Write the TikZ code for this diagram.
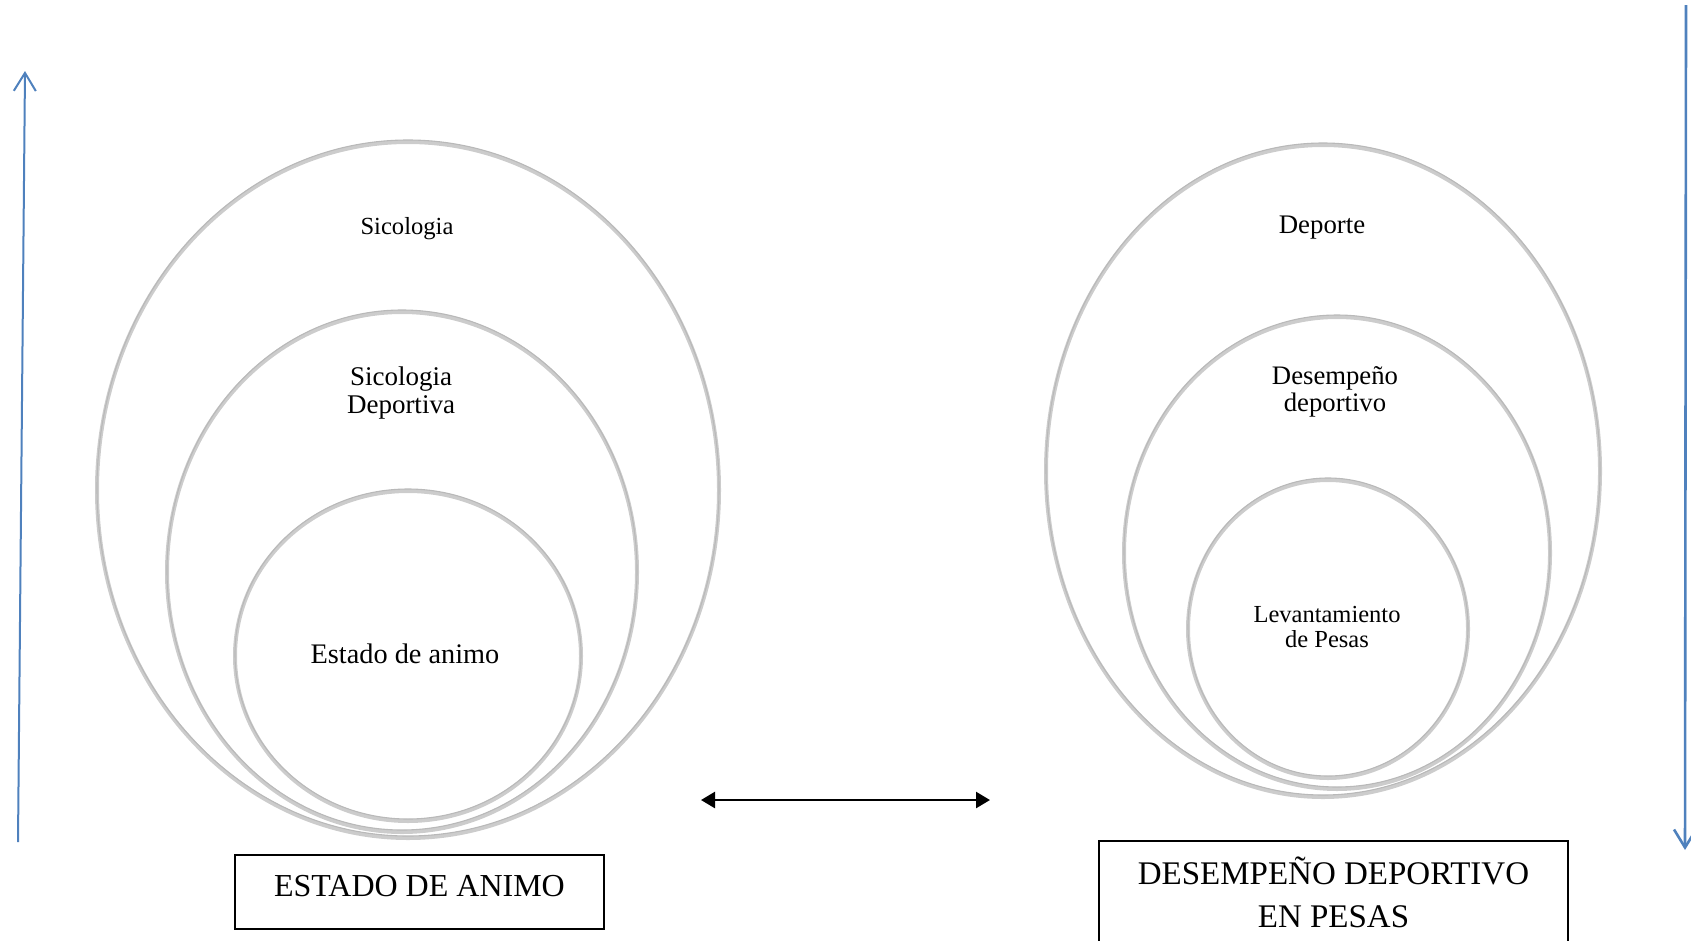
\documentclass[tikz,border=0pt]{standalone}
\usepackage{fontspec}
\setmainfont{Liberation Serif}
\usetikzlibrary{shapes.geometric,arrows.meta}
\definecolor{officeblue}{HTML}{4F81BD}
\begin{document}
\begin{tikzpicture}[x=1pt,y=-1pt,
  ring/.style={ellipse, inner sep=0pt, draw=gray!55, line width=1.1pt,
    preaction={draw=black!20, line width=4pt, transform canvas={yshift=-2pt}}},
  lbl/.style={align=center, inner sep=0pt},
  titlebox/.style={draw=black, line width=1.6pt, align=center, inner sep=0pt},
  bluearrow/.style={draw=officeblue, -{Straight Barb[length=18pt,width=22pt]}},
  linkarrow/.style={draw=black, line width=2.5pt, {Triangle[length=14pt,width=16pt]}-{Triangle[length=14pt,width=16pt]}}
]
\useasboundingbox (0,0) rectangle (1691,940);

% left group
\node[ring, minimum width=622pt, minimum height=696pt] (lout) at (408,488) {};
\node[ring, minimum width=470pt, minimum height=520pt] (lmid) at (402,570) {};
\node[ring, minimum width=346pt, minimum height=330pt] (lin) at (408,654) {};
\node[lbl, font=\fontsize{24.6}{28}\selectfont] (tsic) at (407,229) {Sicologia};
\node[lbl, font=\fontsize{27}{28}\selectfont] (tsicdep) at (401,393) {Sicologia\\Deportiva};
\node[lbl, font=\fontsize{28.3}{30}\selectfont] (test) at (405,654) {Estado de animo};

% right group
\node[ring, minimum width=554pt, minimum height=652pt] (rout) at (1323,469) {};
\node[ring, minimum width=426pt, minimum height=472pt] (rmid) at (1337,551) {};
\node[ring, minimum width=280pt, minimum height=298pt] (rin) at (1328,627) {};
\node[lbl, font=\fontsize{26.8}{28}\selectfont] (tdep) at (1322,228) {Deporte};
\node[lbl, font=\fontsize{26.7}{27}\selectfont] (tdes) at (1335,392) {Desempeño\\deportivo};
\node[lbl, font=\fontsize{24.5}{25}\selectfont] (tlev) at (1327,627) {Levantamiento\\de Pesas};

% boxes
\node[titlebox, minimum width=369pt, minimum height=74pt, text height=21pt, text depth=12pt,
      font=\fontsize{32}{40}\selectfont] (boxL) at (419.5,892) {ESTADO DE ANIMO};
\node[titlebox, minimum width=469pt, minimum height=103pt,
      font=\fontsize{33}{43}\selectfont] (boxR) at (1333.5,892.5) {DESEMPEÑO DEPORTIVO\\EN PESAS};

% arrows
\coordinate (la1) at (18,842);
\coordinate (la2) at (25,71);
\draw[bluearrow, line width=2pt] (la1) -- (la2);
\coordinate (ra1) at (1686,5);
\coordinate (ra2) at (1685,850);
\draw[bluearrow, line width=2.6pt] (ra1) -- (ra2);
\coordinate (da1) at (701,800);
\coordinate (da2) at (990,800);
\draw[linkarrow] (da1) -- (da2);
\end{tikzpicture}
\end{document}
